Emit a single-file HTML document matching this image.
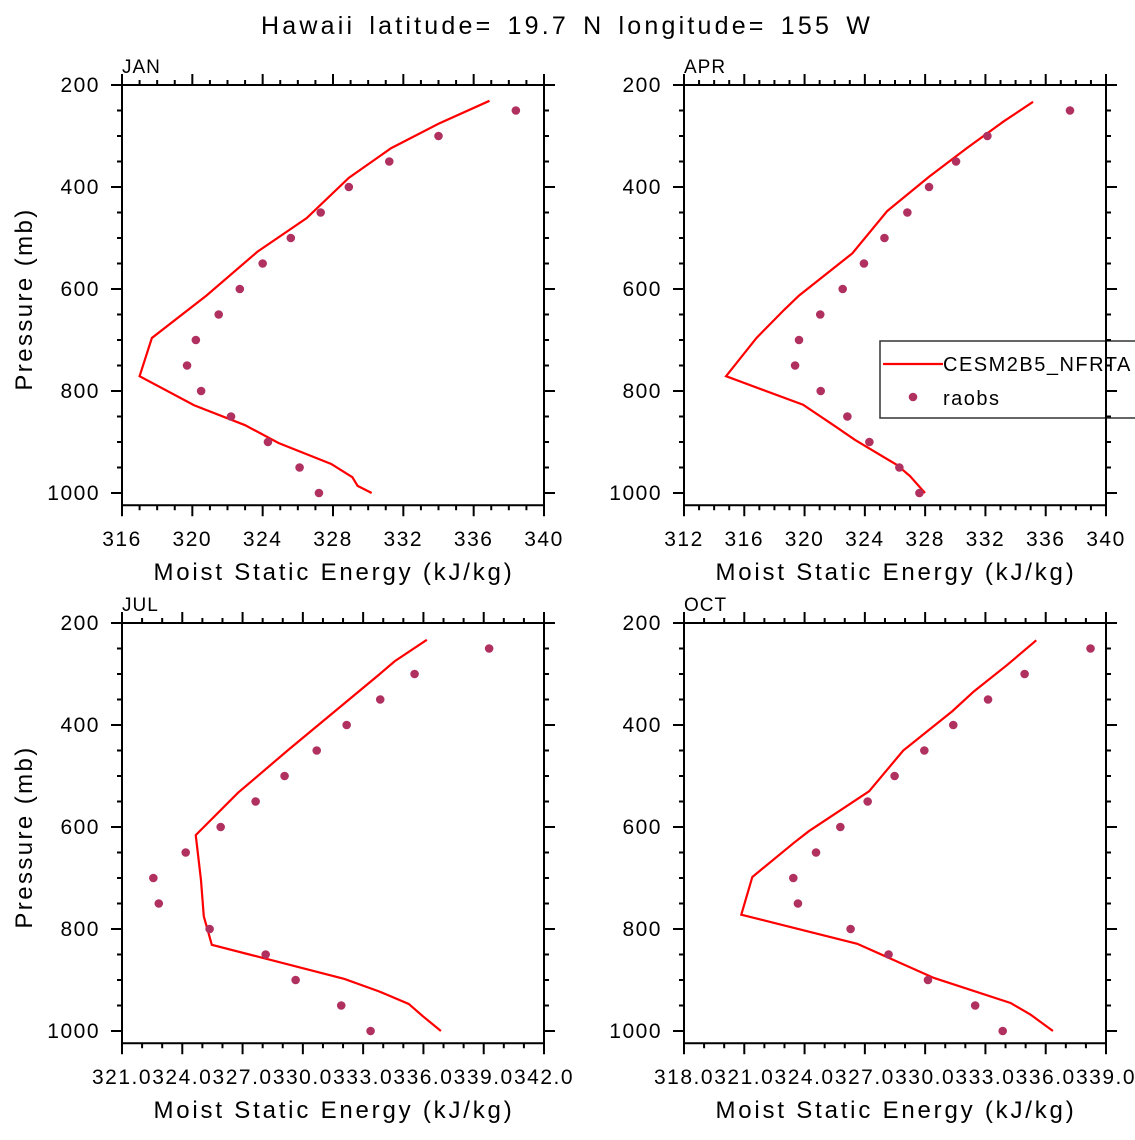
<!DOCTYPE html>
<html><head><meta charset="utf-8"><style>
body{margin:0;background:#fff}
svg text{font-family:"Liberation Sans","DejaVu Sans",sans-serif;fill:#000}
</style></head><body>
<svg id="chart" width="1135" height="1135" viewBox="0 0 1135 1135" xmlns="http://www.w3.org/2000/svg">
<text x="567" y="34" font-size="25" text-anchor="middle" letter-spacing="3.2" word-spacing="4">Hawaii  latitude= 19.7 N longitude= 155 W</text>
</svg>
<script>
const obsP=[250,300,350,400,450,500,550,600,650,700,750,800,850,900,950,1000];
const janLineP=[231,276,324,382,461,527,613,696,771,828,867,902,943,969,986,1000];
const janLineV=[336.9,334.0,331.3,328.9,326.5,323.7,320.8,317.7,317.0,320.1,323.0,324.9,327.9,329.1,329.4,330.2];
const janObs=[338.4,334.0,331.2,328.9,327.3,325.6,324.0,322.7,321.5,320.2,319.7,320.5,322.2,324.3,326.1,327.2];
const aprLineP=[233,271,323,380,447,530,613,641,696,771,827,869,896,945,967,1000];
const aprLineV=[335.16,333.23,330.80,328.26,325.49,323.17,319.63,318.64,316.81,314.79,319.90,322.02,323.35,326.13,327.0,327.99];
const aprObs=[337.61,332.13,330.05,328.26,326.82,325.30,323.94,322.53,321.04,319.63,319.37,321.07,322.84,324.30,326.29,327.62];
const julLineP=[233,275,302,449,533,616,704,775,831,898,922,947,971,1000];
const julLineV=[336.2,334.6,333.8,329.3,326.8,324.7,324.96,325.1,325.5,332.1,333.8,335.3,336.0,336.9];
const julObs=[339.30,335.59,333.88,332.21,330.72,329.12,327.68,325.94,324.20,322.59,322.86,325.39,328.18,329.67,331.94,333.40];
const octLineP=[234,282,334,373,450,530,608,631,698,772,829,896,945,968,1000];
const octLineV=[335.56,334.12,332.46,331.38,328.94,327.24,324.25,323.50,321.43,320.88,326.65,330.47,334.28,335.28,336.39];
const octObs=[338.26,334.98,333.16,331.43,329.99,328.51,327.17,325.81,324.60,323.47,323.70,326.32,328.21,330.17,332.52,333.89];
const yTicks=[200,400,600,800,1000];
const janXTicks=["316","320","324","328","332","336","340"];
const aprXTicks=["312","316","320","324","328","332","336","340"];
const julXTicks=["321.0","324.0","327.0","330.0","333.0","336.0","339.0","342.0"];
const octXTicks=["318.0","321.0","324.0","327.0","330.0","333.0","336.0","339.0"];

const svg=document.getElementById('chart');
const NS='http://www.w3.org/2000/svg';
function mk(tag,attrs,parent){const e=document.createElementNS(NS,tag);for(const k in attrs)e.setAttribute(k,attrs[k]);(parent||svg).appendChild(e);return e;}

const panels=[
 {name:'jan',label:'JAN',x0:122,y0:85,xmin:316,xmax:340,major:4,minor:1,ticks:janXTicks,lp:janLineP,lv:janLineV,ov:janObs},
 {name:'apr',label:'APR',x0:684,y0:85,xmin:312,xmax:340,major:4,minor:1,ticks:aprXTicks,lp:aprLineP,lv:aprLineV,ov:aprObs},
 {name:'jul',label:'JUL',x0:122,y0:623,xmin:321.03,xmax:342.03,major:3,minor:1,ticks:julXTicks,lp:julLineP,lv:julLineV,ov:julObs},
 {name:'oct',label:'OCT',x0:684,y0:623,xmin:318.03,xmax:339.03,major:3,minor:1,ticks:octXTicks,lp:octLineP,lv:octLineV,ov:octObs}
];
const W=422, pxPerMb=0.51, ymax=1024;
panels.forEach(pn=>{
 const g=mk('g',{});
 
 
 const H=(ymax-200)*pxPerMb;
 const sx=v=>pn.x0+(v-pn.xmin)/(pn.xmax-pn.xmin)*W;
 const sy=p=>pn.y0+(p-200)*pxPerMb;
 const clip=mk('clipPath',{id:'c'+pn.name},g);
 mk('rect',{x:pn.x0,y:pn.y0,width:W,height:H},clip);
 const pl=mk('polyline',{points:pn.lv.map((v,i)=>sx(v)+','+sy(pn.lp[i])).join(' '),fill:'none',stroke:'#ff0000','stroke-width':2.2,'clip-path':'url(#c'+pn.name+')'},g);
 
 
 pn.ov.forEach((v,i)=>{
  const c=mk('circle',{cx:sx(v),cy:sy(obsP[i]),r:4.3,fill:'#b03060'},g);
  
  
 });
 if(pn.name==='apr'){
  const lg=mk('g',{},g);
  
  
  mk('rect',{x:880,y:341,width:270,height:77,fill:'#fff',stroke:'#333','stroke-width':1.5},lg);
  mk('line',{x1:883,x2:943,y1:364,y2:364,stroke:'#ff0000','stroke-width':2.2},lg);
  const t1=mk('text',{x:943,y:371,'font-size':20,'letter-spacing':'1.5'},lg);t1.textContent='CESM2B5_NFRTA';
  
  
  mk('circle',{cx:913,cy:397,r:4.3,fill:'#b03060'},lg);
  const t2=mk('text',{x:943,y:405,'font-size':20,'letter-spacing':'1.5'},lg);t2.textContent='raobs';
  
  
 }
 const fr=mk('rect',{x:pn.x0,y:pn.y0,width:W,height:H,fill:'none',stroke:'#000','stroke-width':2},g);
 
 
 for(let p=200;p<=ymax;p+=50){
  const y=sy(p), L=(p%200===0)?11:5;
  mk('line',{x1:pn.x0-L,x2:pn.x0,y1:y,y2:y,stroke:'#000','stroke-width':2},g);
  mk('line',{x1:pn.x0+W,x2:pn.x0+W+L,y1:y,y2:y,stroke:'#000','stroke-width':2},g);
 }
 yTicks.forEach(p=>{
  const t=mk('text',{x:pn.x0-22,y:sy(p)+7,'font-size':21,'text-anchor':'end','letter-spacing':'1.5'},g);
  t.textContent=p;
  
  
 });
 const n=Math.round((pn.xmax-pn.xmin)/pn.minor);
 for(let k=0;k<=n;k++){
  const v=pn.xmin+k*pn.minor, x=sx(v), L=(k%Math.round(pn.major/pn.minor)===0)?11:5;
  mk('line',{x1:x,x2:x,y1:pn.y0+H,y2:pn.y0+H+L,stroke:'#000','stroke-width':2},g);
  mk('line',{x1:x,x2:x,y1:pn.y0-L,y2:pn.y0,stroke:'#000','stroke-width':2},g);
 }
 pn.ticks.forEach((s,i)=>{
  const t=mk('text',{x:sx(pn.xmin+i*pn.major),y:pn.y0+H+41,'font-size':21,'text-anchor':'middle','letter-spacing':'1.5'},g);
  t.textContent=s;
  
  
 });
 const xt=mk('text',{x:pn.x0+W/2+1,y:pn.y0+H+75,'font-size':24,'text-anchor':'middle','letter-spacing':'2.8'},g);
 xt.textContent='Moist Static Energy (kJ/kg)';
 
 
 const ml=mk('text',{x:pn.x0,y:pn.y0-12,'font-size':19,'letter-spacing':'1'},g);
 ml.textContent=pn.label;
 
 
 if(pn.x0<200){
  const yt=mk('text',{x:0,y:0,'font-size':24,'text-anchor':'middle','letter-spacing':'2.4',transform:'translate(32,'+(pn.y0+214)+') rotate(-90)'},g);
  yt.textContent='Pressure (mb)';
  
  
 }
});
</script>
</body></html>
